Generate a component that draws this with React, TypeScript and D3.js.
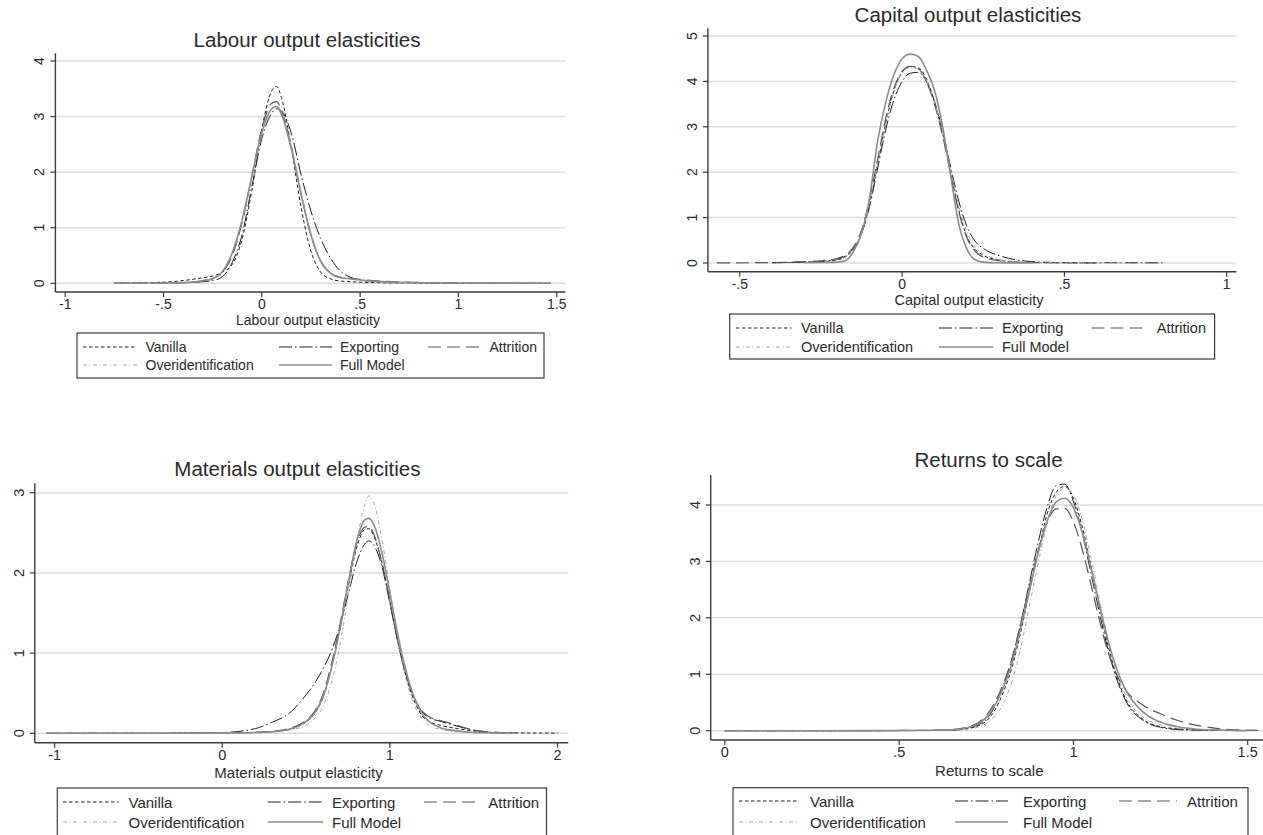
import React from "react";
import * as d3 from "d3";

// ---- Series shared by every panel ----
const seriesNames = ["Vanilla", "Exporting", "Attrition", "Overidentification", "Full Model"];

// ---- Labour output elasticities (kernel densities) ----
const labourGrid = [-0.75, -0.5, -0.4, -0.3, -0.25, -0.2, -0.15, -0.1, -0.05, 0, 0.05, 0.075, 0.1, 0.15, 0.2, 0.25, 0.3, 0.35, 0.4, 0.45, 0.5, 0.6, 0.8, 1.0, 1.2, 1.47];
const labourVanilla = [0.005, 0.02, 0.05, 0.1, 0.13, 0.2, 0.34, 0.8, 1.68, 2.77, 3.46, 3.54, 3.34, 2.44, 1.36, 0.58, 0.2, 0.08, 0.04, 0.03, 0.02, 0.01, 0.005, 0.002, 0.001, 0];
const labourExporting = [0, 0.005, 0.01, 0.03, 0.05, 0.12, 0.38, 0.88, 1.75, 2.6, 3.06, 3.14, 3.1, 2.7, 1.95, 1.3, 0.8, 0.45, 0.22, 0.11, 0.06, 0.03, 0.01, 0.005, 0.002, 0];
const labourAttrition = [0, 0.005, 0.01, 0.04, 0.08, 0.2, 0.5, 1.1, 1.95, 2.78, 3.24, 3.27, 3.12, 2.46, 1.6, 0.86, 0.4, 0.18, 0.11, 0.09, 0.07, 0.04, 0.015, 0.006, 0.003, 0];
const labourOverid = [0, 0.006, 0.015, 0.05, 0.09, 0.22, 0.56, 1.15, 1.95, 2.72, 3.14, 3.2, 3.08, 2.48, 1.65, 0.9, 0.42, 0.19, 0.11, 0.08, 0.06, 0.03, 0.01, 0.005, 0.002, 0];
const labourFull = [0, 0.005, 0.012, 0.045, 0.085, 0.21, 0.55, 1.14, 1.93, 2.71, 3.14, 3.18, 3.04, 2.42, 1.6, 0.87, 0.39, 0.18, 0.1, 0.08, 0.06, 0.03, 0.01, 0.005, 0.002, 0];
const labourXTicks = [-1, -0.5, 0, 0.5, 1, 1.5];
const labourXTickLabels = ["-1", "-.5", "0", ".5", "1", "1.5"];
const labourYTicks = [0, 1, 2, 3, 4];

// ---- Capital output elasticities ----
const capitalGrid = [-0.57, -0.4, -0.3, -0.25, -0.2, -0.175, -0.15, -0.125, -0.1, -0.075, -0.05, -0.025, 0, 0.025, 0.05, 0.075, 0.1, 0.125, 0.15, 0.175, 0.2, 0.225, 0.25, 0.3, 0.35, 0.4, 0.5, 0.6, 0.7, 0.81];
const capitalVanilla = [null, 0.005, 0.02, 0.03, 0.07, 0.13, 0.3, 0.65, 1.3, 2.2, 3.1, 3.8, 4.2, 4.33, 4.3, 4.05, 3.55, 2.85, 2.0, 1.15, 0.58, 0.3, 0.17, 0.06, 0.02, 0.01, 0.005, 0.003, null, null];
const capitalExporting = [null, 0.005, 0.02, 0.035, 0.08, 0.15, 0.32, 0.65, 1.25, 2.1, 2.95, 3.6, 4.0, 4.18, 4.2, 4.0, 3.55, 2.9, 2.1, 1.35, 0.8, 0.48, 0.32, 0.16, 0.07, 0.03, 0.01, 0.008, 0.005, 0.003];
const capitalAttrition = [0.002, 0.01, 0.03, 0.05, 0.1, 0.17, 0.35, 0.72, 1.4, 2.3, 3.2, 3.85, 4.22, 4.33, 4.28, 4.0, 3.5, 2.8, 1.95, 1.12, 0.55, 0.26, 0.13, 0.05, 0.02, 0.01, 0.005, 0.003, null, null];
const capitalOverid = [null, null, 0.01, 0.025, 0.07, 0.13, 0.3, 0.66, 1.32, 2.22, 3.1, 3.78, 4.18, 4.3, 4.27, 4.02, 3.55, 2.88, 2.05, 1.25, 0.68, 0.36, 0.2, 0.08, 0.03, 0.012, 0.005, 0.003, 0.002, null];
const capitalFull = [null, null, 0.005, 0.01, 0.02, 0.05, 0.25, 0.65, 1.45, 2.7, 3.55, 4.15, 4.5, 4.6, 4.55, 4.25, 3.8, 3.0, 1.9, 0.85, 0.3, 0.07, 0.02, 0.005, 0.002, 0, null, null, null, null];
const capitalXTicks = [-0.5, 0, 0.5, 1];
const capitalXTickLabels = ["-.5", "0", ".5", "1"];
const capitalYTicks = [0, 1, 2, 3, 4, 5];

// ---- Materials output elasticities ----
const materialsGrid = [-1.05, -0.5, 0, 0.2, 0.3, 0.4, 0.5, 0.55, 0.6, 0.65, 0.7, 0.75, 0.8, 0.85, 0.875, 0.9, 0.95, 1.0, 1.05, 1.1, 1.15, 1.2, 1.25, 1.3, 1.4, 1.5, 1.6, 1.75, 2.0];
const materialsVanilla = [0, 0, 0.005, 0.01, 0.02, 0.05, 0.14, 0.24, 0.44, 0.8, 1.28, 1.82, 2.3, 2.54, 2.55, 2.48, 2.15, 1.65, 1.12, 0.68, 0.38, 0.2, 0.13, 0.1, 0.06, 0.03, 0.01, 0.005, 0.002];
const materialsExporting = [0, 0, 0.01, 0.06, 0.14, 0.25, 0.48, 0.62, 0.8, 1.02, 1.32, 1.72, 2.12, 2.36, 2.4, 2.36, 2.1, 1.62, 1.12, 0.7, 0.42, 0.25, 0.18, 0.15, 0.09, 0.04, 0.015, 0.005, null];
const materialsAttrition = [0, 0, 0.005, 0.012, 0.025, 0.06, 0.16, 0.27, 0.48, 0.85, 1.33, 1.88, 2.35, 2.57, 2.58, 2.5, 2.15, 1.65, 1.12, 0.7, 0.42, 0.26, 0.19, 0.16, 0.1, 0.04, 0.015, 0.005, null];
const materialsOverid = [0, 0, 0.003, 0.008, 0.015, 0.04, 0.1, 0.18, 0.33, 0.62, 1.08, 1.7, 2.35, 2.85, 2.96, 2.9, 2.45, 1.8, 1.15, 0.65, 0.33, 0.16, 0.08, 0.05, 0.02, 0.01, 0.005, 0, null];
const materialsFull = [0, 0, 0.005, 0.01, 0.02, 0.05, 0.15, 0.25, 0.45, 0.8, 1.28, 1.85, 2.38, 2.66, 2.68, 2.62, 2.28, 1.75, 1.2, 0.75, 0.42, 0.22, 0.12, 0.07, 0.03, 0.01, 0.005, 0, null];
const materialsXTicks = [-1, 0, 1, 2];
const materialsXTickLabels = ["-1", "0", "1", "2"];
const materialsYTicks = [0, 1, 2, 3];

// ---- Returns to scale ----
const returnsGrid = [0, 0.3, 0.5, 0.6, 0.65, 0.7, 0.75, 0.8, 0.825, 0.85, 0.875, 0.9, 0.925, 0.95, 0.975, 1.0, 1.025, 1.05, 1.075, 1.1, 1.125, 1.15, 1.2, 1.25, 1.3, 1.35, 1.4, 1.45, 1.5, 1.55];
const returnsVanilla = [0, 0, 0.002, 0.005, 0.01, 0.04, 0.17, 0.7, 1.15, 1.78, 2.5, 3.2, 3.85, 4.22, 4.33, 4.12, 3.62, 2.93, 2.2, 1.5, 0.95, 0.56, 0.2, 0.07, 0.03, 0.015, 0.008, 0.004, 0.002, null];
const returnsExporting = [0, 0, 0.002, 0.005, 0.01, 0.05, 0.2, 0.82, 1.31, 1.94, 2.66, 3.37, 3.97, 4.34, 4.37, 4.06, 3.51, 2.8, 2.08, 1.42, 0.9, 0.53, 0.18, 0.06, 0.02, 0.01, 0.005, 0.002, 0, null];
const returnsAttrition = [0, 0.001, 0.004, 0.01, 0.02, 0.07, 0.27, 0.85, 1.3, 1.93, 2.6, 3.22, 3.7, 3.93, 3.94, 3.7, 3.22, 2.6, 1.95, 1.38, 0.98, 0.72, 0.45, 0.3, 0.18, 0.1, 0.05, 0.02, 0.01, 0.005];
const returnsOverid = [0, 0, 0.002, 0.004, 0.008, 0.03, 0.13, 0.5, 0.9, 1.5, 2.25, 3.0, 3.7, 4.15, 4.3, 4.18, 3.75, 3.08, 2.32, 1.6, 1.02, 0.62, 0.24, 0.1, 0.04, 0.02, 0.01, 0.005, 0.002, null];
const returnsFull = [0, 0, 0.003, 0.008, 0.015, 0.06, 0.24, 0.78, 1.22, 1.85, 2.52, 3.18, 3.72, 4.05, 4.12, 3.95, 3.52, 2.9, 2.22, 1.58, 1.08, 0.72, 0.33, 0.15, 0.07, 0.03, 0.015, 0.007, 0.003, null];
const returnsXTicks = [0, 0.5, 1, 1.5];
const returnsXTickLabels = ["0", ".5", "1", "1.5"];
const returnsYTicks = [0, 1, 2, 3, 4];

// ---- Line styles, one per estimator ----
const lineStyles: Record<string, { stroke: string; dash: string | null; width: number }> = {
  Vanilla: { stroke: "#1e1e1e", dash: "3.5,2.5", width: 1 },
  Exporting: { stroke: "#1e1e1e", dash: "13,3,1.5,3", width: 1 },
  Attrition: { stroke: "#555555", dash: "13,6", width: 1.2 },
  Overidentification: { stroke: "#a8a8a8", dash: "4,2.5,1,2.5", width: 1 },
  "Full Model": { stroke: "#8c8c8c", dash: null, width: 1.6 },
};

const FONT = "'Liberation Sans', Arial, Helvetica, sans-serif";
const TEXT = "#2a2a2a";

type Layout = {
  xDomain: [number, number];
  xRange: [number, number];
  yDomain: [number, number];
  yRange: [number, number];
  frame: { left: number; right: number; top: number; bottom: number };
  titleY: number;
  titleX: number;
  xTitleY: number;
  xTitleX: number;
  tickFont: number;
  labelFont: number;
  legend: {
    box: [number, number, number, number];
    rows: [number, number];
    cols: { x0: number; x1: number; tx: number }[];
  };
};

type Panel = {
  title: string;
  xTitle: string;
  grid: number[];
  values: (number | null)[][];
  xTicks: number[];
  xTickLabels: string[];
  yTicks: number[];
  layout: Layout;
};

const panels: Panel[] = [
  {
    title: "Labour output elasticities",
    xTitle: "Labour output elasticity",
    grid: labourGrid,
    values: [labourVanilla, labourExporting, labourAttrition, labourOverid, labourFull],
    xTicks: labourXTicks,
    xTickLabels: labourXTickLabels,
    yTicks: labourYTicks,
    layout: {
      xDomain: [-1, 1.5], xRange: [65.2, 556.7],
      yDomain: [0, 4], yRange: [283.3, 61],
      frame: { left: 55.4, right: 565.4, top: 53.3, bottom: 292 },
      titleX: 307, titleY: 39, xTitleX: 308, xTitleY: 319.5,
      tickFont: 14, labelFont: 14,
      legend: {
        box: [77, 333, 544, 378], rows: [347, 365],
        cols: [{ x0: 83, x1: 137, tx: 145.5 }, { x0: 279, x1: 332, tx: 340 }, { x0: 428, x1: 482, tx: 489.5 }],
      },
    },
  },
  {
    title: "Capital output elasticities",
    xTitle: "Capital output elasticity",
    grid: capitalGrid,
    values: [capitalVanilla, capitalExporting, capitalAttrition, capitalOverid, capitalFull],
    xTicks: capitalXTicks,
    xTickLabels: capitalXTickLabels,
    yTicks: capitalYTicks,
    layout: {
      xDomain: [-0.5, 1], xRange: [739.8, 1226.7],
      yDomain: [0, 5], yRange: [263, 36],
      frame: { left: 707.9, right: 1236.4, top: 28.3, bottom: 271.7 },
      titleX: 968, titleY: 14, xTitleX: 969, xTitleY: 300,
      tickFont: 14, labelFont: 14.5,
      legend: {
        box: [729.7, 314, 1214.6, 359], rows: [328, 347],
        cols: [{ x0: 736, x1: 791.5, tx: 801 }, { x0: 939, x1: 993.3, tx: 1002 }, { x0: 1091.5, x1: 1148, tx: 1156.8 }],
      },
    },
  },
  {
    title: "Materials output elasticities",
    xTitle: "Materials output elasticity",
    grid: materialsGrid,
    values: [materialsVanilla, materialsExporting, materialsAttrition, materialsOverid, materialsFull],
    xTicks: materialsXTicks,
    xTickLabels: materialsXTickLabels,
    yTicks: materialsYTicks,
    layout: {
      xDomain: [-1, 2], xRange: [54.6, 557.5],
      yDomain: [0, 3], yRange: [733.3, 492.7],
      frame: { left: 34.8, right: 568.2, top: 483.3, bottom: 742.7 },
      titleX: 297.4, titleY: 468, xTitleX: 298.5, xTitleY: 772,
      tickFont: 14.5, labelFont: 15,
      legend: {
        box: [57.3, 788, 546.5, 842], rows: [802, 822],
        cols: [{ x0: 63, x1: 118.6, tx: 128.5 }, { x0: 267.7, x1: 323, tx: 332 }, { x0: 424, x1: 476, tx: 488.3 }],
      },
    },
  },
  {
    title: "Returns to scale",
    xTitle: "Returns to scale",
    grid: returnsGrid,
    values: [returnsVanilla, returnsExporting, returnsAttrition, returnsOverid, returnsFull],
    xTicks: returnsXTicks,
    xTickLabels: returnsXTickLabels,
    yTicks: returnsYTicks,
    layout: {
      xDomain: [0, 1.5], xRange: [724.9, 1247.7],
      yDomain: [0, 4], yRange: [730.7, 505],
      frame: { left: 710.7, right: 1266, top: 475, bottom: 740 },
      titleX: 988.5, titleY: 459, xTitleX: 989.3, xTitleY: 770.5,
      tickFont: 14.5, labelFont: 15,
      legend: {
        box: [733, 787.7, 1248, 842], rows: [801, 822],
        cols: [{ x0: 739, x1: 797, tx: 810 }, { x0: 955, x1: 1008, tx: 1023 }, { x0: 1119, x1: 1177, tx: 1187 }],
      },
    },
  },
];

function DensityPanel({ panel }: { panel: Panel }) {
  const L = panel.layout;
  const x = d3.scaleLinear().domain(L.xDomain).range(L.xRange);
  const y = d3.scaleLinear().domain(L.yDomain).range(L.yRange);
  const f = L.frame;

  const line = d3
    .line<[number, number | null]>()
    .defined((d) => d[1] !== null)
    .x((d) => x(d[0]))
    .y((d) => y(d[1] as number))
    .curve(d3.curveMonotoneX);

  const legendOrder = [
    [0, 1, 2],
    [3, 4],
  ];

  return (
    <g>
      {/* horizontal gridlines */}
      {panel.yTicks.map((t) => (
        <line key={"g" + t} x1={f.left} x2={f.right} y1={y(t)} y2={y(t)} stroke="#dcdcdc" strokeWidth={1.5} />
      ))}

      {/* density curves */}
      <g>
        {seriesNames.map((name, i) => {
          const st = lineStyles[name];
          const pts = panel.grid.map((g, j) => [g, panel.values[i][j]] as [number, number | null]);
          return (
            <path
              key={name}
              d={line(pts) || ""}
              fill="none"
              stroke={st.stroke}
              strokeWidth={st.width}
              strokeDasharray={st.dash || undefined}
              strokeLinejoin="round"
            />
          );
        })}
      </g>

      {/* axes */}
      <line x1={f.left} x2={f.left} y1={f.top} y2={f.bottom} stroke="#3a3a3a" strokeWidth={1.4} />
      <line x1={f.left} x2={f.right} y1={f.bottom} y2={f.bottom} stroke="#3a3a3a" strokeWidth={1.4} />
      {panel.yTicks.map((t) => (
        <g key={"yt" + t}>
          <line x1={f.left - 5} x2={f.left} y1={y(t)} y2={y(t)} stroke="#3a3a3a" strokeWidth={1.2} />
          <text
            transform={`translate(${f.left - 16},${y(t)}) rotate(-90)`}
            textAnchor="middle"
            dominantBaseline="central"
            fontSize={L.tickFont}
            fontFamily={FONT}
            fill={TEXT}
          >
            {String(t)}
          </text>
        </g>
      ))}
      {panel.xTicks.map((t, i) => (
        <g key={"xt" + t}>
          <line x1={x(t)} x2={x(t)} y1={f.bottom} y2={f.bottom + 5} stroke="#3a3a3a" strokeWidth={1.2} />
          <text
            x={x(t)}
            y={f.bottom + 12}
            textAnchor="middle"
            dominantBaseline="central"
            fontSize={L.tickFont}
            fontFamily={FONT}
            fill={TEXT}
          >
            {panel.xTickLabels[i]}
          </text>
        </g>
      ))}

      {/* titles */}
      <text x={L.titleX} y={L.titleY} textAnchor="middle" dominantBaseline="central" fontSize={20.5} fontFamily={FONT} fill={TEXT}>
        {panel.title}
      </text>
      <text x={L.xTitleX} y={L.xTitleY} textAnchor="middle" dominantBaseline="central" fontSize={L.labelFont} fontFamily={FONT} fill={TEXT}>
        {panel.xTitle}
      </text>

      {/* legend */}
      <rect
        x={L.legend.box[0]}
        y={L.legend.box[1]}
        width={L.legend.box[2] - L.legend.box[0]}
        height={L.legend.box[3] - L.legend.box[1]}
        fill="white"
        stroke="#3a3a3a"
        strokeWidth={1.2}
      />
      {legendOrder.map((row, r) =>
        row.map((si, c) => {
          const name = seriesNames[si];
          const st = lineStyles[name];
          const col = L.legend.cols[c];
          const yy = L.legend.rows[r];
          return (
            <g key={name}>
              <line
                x1={col.x0}
                x2={col.x1}
                y1={yy}
                y2={yy}
                stroke={st.stroke}
                strokeWidth={st.width}
                strokeDasharray={st.dash || undefined}
              />
              <text x={col.tx} y={yy} dominantBaseline="central" fontSize={L.labelFont} fontFamily={FONT} fill={TEXT}>
                {name}
              </text>
            </g>
          );
        })
      )}
    </g>
  );
}

export default function App() {
  return (
    <svg
      width={1263}
      height={835}
      viewBox="0 0 1263 835"
      style={{ position: "absolute", left: 0, top: 0, background: "white", display: "block" }}
    >
      <rect x={0} y={0} width={1263} height={835} fill="white" />
      {panels.map((p) => (
        <DensityPanel key={p.title} panel={p} />
      ))}
    </svg>
  );
}
